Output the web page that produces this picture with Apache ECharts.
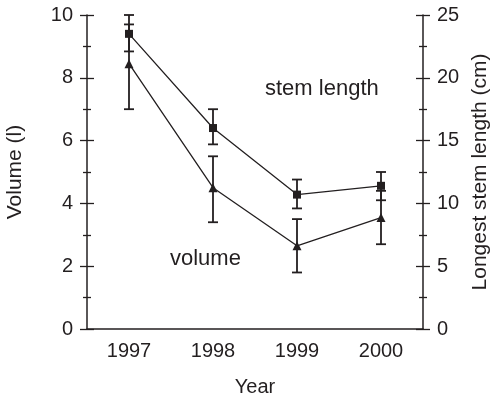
<!DOCTYPE html>
<html>
<head>
<meta charset="utf-8">
<script src="https://cdn.jsdelivr.net/npm/echarts@6/dist/echarts.min.js"></script>
<style>
  html, body { margin: 0; padding: 0; background: #fff; }
  #chart { width: 492px; height: 399px; }
</style>
</head>
<body>
<div id="chart"></div>
<script>
const years = ['1997', '1998', '1999', '2000'];

// volume (l), left axis
const volume = [8.45, 4.5, 2.65, 3.55];
const volumeLow = [7.0, 3.4, 1.8, 2.7];
const volumeHigh = [9.7, 5.5, 3.5, 4.4];

// longest stem length (cm), right axis
const stem = [23.5, 16.0, 10.7, 11.4];
const stemLow = [22.1, 14.7, 9.6, 10.25];
const stemHigh = [25.0, 17.5, 11.9, 12.5];

const ink = '#231f20';
const font = 'Liberation Sans, Arial, sans-serif';

const chart = echarts.init(document.getElementById('chart'));

function errorBars(low, high) {
    return years.map((y, i) => [i, low[i], high[i]]);
}

function renderErr(params, api) {
    const x = api.value(0);
    const lo = api.coord([x, api.value(1)]);
    const hi = api.coord([x, api.value(2)]);
    const w = 5;
    const style = { stroke: ink, lineWidth: 1.8 };
    return {
        type: 'group',
        children: [
            { type: 'line', shape: { x1: lo[0], y1: lo[1], x2: hi[0], y2: hi[1] }, style },
            { type: 'line', shape: { x1: lo[0] - w, y1: lo[1], x2: lo[0] + w, y2: lo[1] }, style },
            { type: 'line', shape: { x1: hi[0] - w, y1: hi[1], x2: hi[0] + w, y2: hi[1] }, style }
        ]
    };
}

const label = { color: ink, fontSize: 20, fontFamily: font };
const nameStyle = { color: ink, fontSize: 21, fontFamily: font };

// y axis template; copies with inside ticks make the ticks cross the line
function yAx(pos, max, interval, withText, inside) {
    return {
        type: 'value',
        position: pos,
        min: 0,
        max: max,
        interval: interval,
        splitLine: { show: false },
        axisLine: { show: withText, lineStyle: { color: ink, width: 1.5 } },
        axisTick: { show: true, inside: inside, length: 7, lineStyle: { color: ink, width: 1.3 } },
        minorTick: { show: true, splitNumber: 2, length: 4, lineStyle: { color: ink, width: 1.3 } },
        axisLabel: { show: withText, margin: 14, ...label }
    };
}

const yLeft = yAx('left', 10, 2, true, false);
yLeft.name = 'Volume (l)';
yLeft.nameLocation = 'middle';
yLeft.nameGap = 61;
yLeft.nameRotate = 90;
yLeft.nameTextStyle = nameStyle;

const yRight = yAx('right', 25, 5, true, false);
yRight.name = 'Longest stem length (cm)';
yRight.nameLocation = 'middle';
yRight.nameGap = 47;
yRight.nameRotate = 90;
yRight.nameTextStyle = nameStyle;

const xMain = {
    type: 'category',
    data: years,
    boundaryGap: true,
    name: 'Year',
    nameLocation: 'middle',
    nameGap: 48,
    nameTextStyle: { ...nameStyle, fontSize: 20 },
    axisLine: { lineStyle: { color: ink, width: 1.5 } },
    axisTick: { alignWithLabel: true, length: 4, lineStyle: { color: ink, width: 1.3 } },
    axisLabel: { margin: 12, ...label }
};
const xInner = {
    type: 'category',
    data: years,
    position: 'bottom',
    boundaryGap: true,
    axisLine: { show: false },
    axisTick: { alignWithLabel: true, inside: true, length: 6, lineStyle: { color: ink, width: 1.3 } },
    axisLabel: { show: false }
};

chart.setOption({
    animation: false,
    backgroundColor: '#fff',
    grid: { left: 87, right: 69, top: 15, bottom: 70, outerBoundsMode: 'none' },
    xAxis: [xMain, xInner],
    yAxis: [yLeft, yRight, yAx('left', 10, 2, false, true), yAx('right', 25, 5, false, true)],
    series: [
        {
            name: 'stem length',
            type: 'line',
            yAxisIndex: 1,
            data: stem,
            symbol: 'rect',
            symbolSize: 8,
            lineStyle: { color: ink, width: 1.3 },
            itemStyle: { color: ink },
            z: 3
        },
        {
            name: 'volume',
            type: 'line',
            yAxisIndex: 0,
            data: volume,
            symbol: 'triangle',
            symbolSize: 9,
            lineStyle: { color: ink, width: 1.3 },
            itemStyle: { color: ink },
            z: 3
        },
        {
            type: 'custom',
            yAxisIndex: 1,
            data: errorBars(stemLow, stemHigh),
            encode: { x: 0, y: [1, 2] },
            renderItem: renderErr,
            z: 2
        },
        {
            type: 'custom',
            yAxisIndex: 0,
            data: errorBars(volumeLow, volumeHigh),
            encode: { x: 0, y: [1, 2] },
            renderItem: renderErr,
            z: 2
        }
    ],
    graphic: [
        {
            type: 'text', left: 265, top: 78,
            style: { text: 'stem length', fill: ink, fontSize: 22, fontFamily: font }
        },
        {
            type: 'text', left: 170, top: 248,
            style: { text: 'volume', fill: ink, fontSize: 22, fontFamily: font }
        }
    ]
});
</script>
</body>
</html>
